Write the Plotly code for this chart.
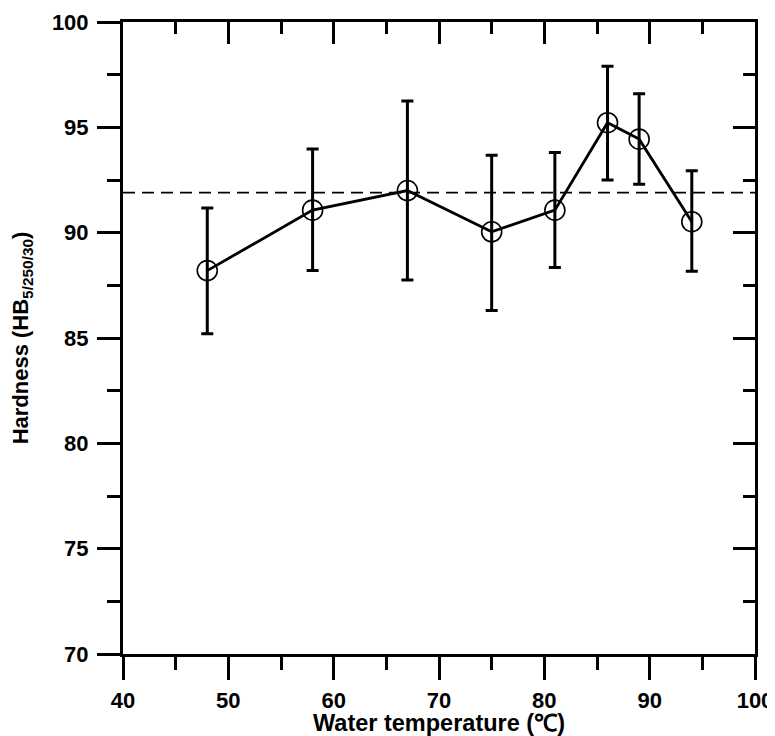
import plotly.graph_objects as go

# Data
water_temp = [48, 58, 67, 75, 81, 86, 89, 94]
hardness = [88.2, 91.07, 92.0, 90.04, 91.07, 95.22, 94.44, 90.52]
err_upper = [91.17, 93.97, 96.25, 93.68, 93.8, 97.9, 96.6, 92.94]
err_lower = [85.2, 88.2, 87.75, 86.3, 88.35, 92.5, 92.3, 88.17]
reference_hardness = 91.9
x_range = [40, 100]
y_range = [70, 100]

err_plus = [u - h for u, h in zip(err_upper, hardness)]
err_minus = [h - l for h, l in zip(hardness, err_lower)]

FONT = "Liberation Sans, Arial, sans-serif"

fig = go.Figure()

# dashed reference line
fig.add_trace(go.Scatter(
    x=x_range, y=[reference_hardness, reference_hardness],
    mode="lines", line=dict(color="black", width=1.6, dash="12px,7px"),
    showlegend=False, hoverinfo="skip"))

fig.add_trace(go.Scatter(
    x=water_temp, y=hardness, mode="lines+markers",
    line=dict(color="black", width=2.8),
    marker=dict(symbol="circle-open", size=20, color="black",
                line=dict(width=1.6, color="black")),
    error_y=dict(type="data", symmetric=False, array=err_plus,
                 arrayminus=err_minus, color="black", thickness=3, width=6),
    showlegend=False))

# invisible trace to activate mirrored axes (top/right, inward ticks)
fig.add_trace(go.Scatter(x=x_range, y=y_range, xaxis="x2", yaxis="y2",
                         mode="markers", marker=dict(opacity=0),
                         showlegend=False, hoverinfo="skip"))

tickfont = dict(family=FONT, size=22, color="black", weight="bold")

fig.update_layout(
    width=767, height=728,
    margin=dict(l=115, r=20, t=14, b=82),
    paper_bgcolor="white", plot_bgcolor="white",
    font=dict(family=FONT, color="black"),
    xaxis=dict(
        range=x_range, dtick=10, tick0=40, automargin=False,
        ticks="outside", ticklen=23, tickwidth=3, tickcolor="black",
        minor=dict(dtick=5, ticks="outside", ticklen=13, tickwidth=3, tickcolor="black"),
        showline=True, linewidth=3, linecolor="black",
        showgrid=False, zeroline=False,
        tickfont=tickfont, ticklabelstandoff=2,
        title=dict(text="<b>Water temperature (℃)</b>",
                   font=dict(family=FONT, size=23.5, color="black"), standoff=1),
    ),
    yaxis=dict(
        range=y_range, dtick=5, tick0=70, automargin=False,
        ticks="outside", ticklen=23, tickwidth=3, tickcolor="black",
        minor=dict(dtick=2.5, ticks="outside", ticklen=13, tickwidth=3, tickcolor="black"),
        showline=True, linewidth=3, linecolor="black",
        showgrid=False, zeroline=False,
        tickfont=tickfont, ticklabelstandoff=4,
        title=dict(text="<b>Hardness (HB<sub>5/250/30</sub>)</b>",
                   font=dict(family=FONT, size=22, color="black"), standoff=19),
    ),
    xaxis2=dict(
        overlaying="x", side="top", range=x_range, dtick=10, tick0=40,
        automargin=False,
        ticks="inside", ticklen=22, tickwidth=3, tickcolor="black",
        minor=dict(dtick=5, ticks="inside", ticklen=12, tickwidth=3, tickcolor="black"),
        showline=True, linewidth=3, linecolor="black",
        showticklabels=False, showgrid=False, zeroline=False,
    ),
    yaxis2=dict(
        overlaying="y", side="right", range=y_range, dtick=5, tick0=70,
        automargin=False,
        ticks="inside", ticklen=22, tickwidth=3, tickcolor="black",
        minor=dict(dtick=2.5, ticks="inside", ticklen=12, tickwidth=3, tickcolor="black"),
        showline=True, linewidth=3, linecolor="black",
        showticklabels=False, showgrid=False, zeroline=False,
    ),
)

fig.write_html("out.html")
